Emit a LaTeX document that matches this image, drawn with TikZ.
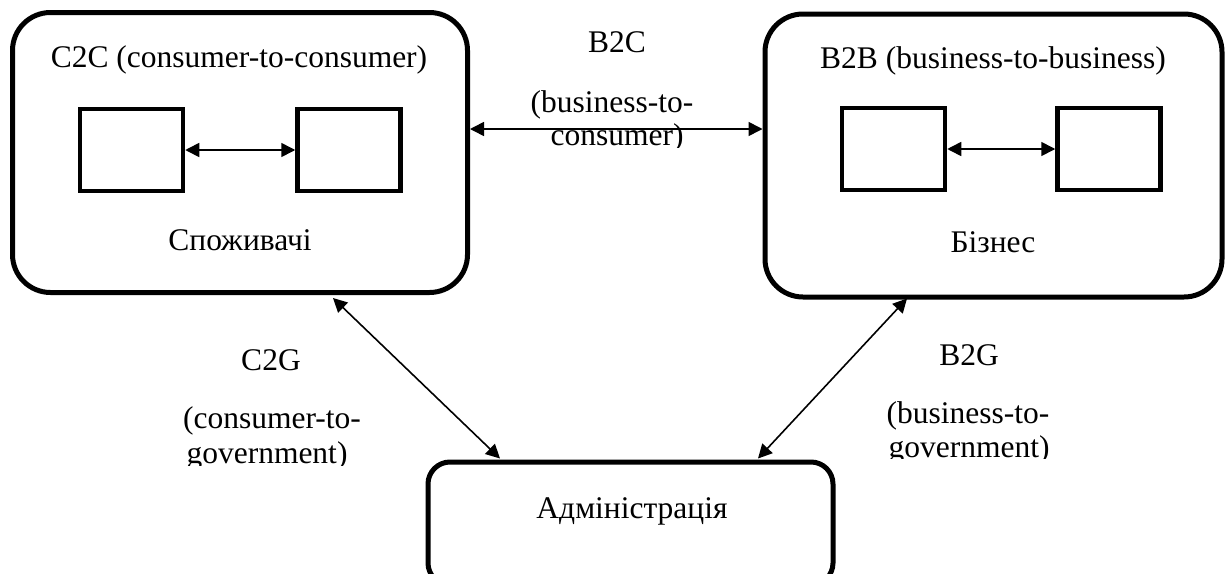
\documentclass[tikz,border=0pt]{standalone}
\usepackage{fontspec}
\setmainfont{Liberation Serif}
\usetikzlibrary{arrows.meta,calc}
\begin{document}
\begin{tikzpicture}[x=1pt,y=-1pt,
  bigbox/.style={draw,line width=5pt,rounded corners=38pt,inner sep=0pt},
  smallbox/.style={draw,line width=4.5pt,inner sep=0pt,minimum width=103pt,minimum height=82pt},
  adminbox/.style={draw,line width=5pt,rounded corners=22pt,inner sep=0pt},
  link/.style={line width=1.6pt,{Triangle[length=14pt,width=14pt]}-{Triangle[length=14pt,width=14pt]}},
  lbl/.style={anchor=base,inner sep=0pt,font=\fontsize{31.5}{36}\selectfont}]
\useasboundingbox (0,0) rectangle (1225,573);
% big boxes
\node[bigbox,minimum width=455pt,minimum height=280pt] (c2c) at (240,152.5) {};
\node[bigbox,minimum width=457pt,minimum height=283pt] (b2b) at (993.5,155.5) {};
\node[adminbox,minimum width=405pt,minimum height=123pt] (admin) at (630.5,523.5) {};
% small boxes
\node[smallbox] (c1) at (131.5,150) {};
\node[smallbox] (c2) at (349,150) {};
\node[smallbox] (b1) at (893.5,149) {};
\node[smallbox] (b2) at (1109,149) {};
% connectors
\draw[link] (c1.east) -- (c2.west);
\draw[link] (b1.east) -- (b2.west);
\draw[link] ($(c2c.east)+(0,-23.5)$) -- ($(b2b.west)+(0,-26.5)$);
\draw[link] ($(c2c.south)+(93,3)$) -- ($(admin.north)+(-130.5,-1)$);
\draw[link] ($(b2b.south)+(-86.5,-1)$) -- ($(admin.north)+(127.5,-1)$);
% labels
\node[lbl] (tc2c) at (239,67) {C2C (consumer-to-consumer)};
\node[lbl] (tcons) at (240,250) {Споживачі};
\node[lbl] (tb2b) at (993,68) {B2B (business-to-business)};
\node[lbl] (tbiz) at (993,252) {Бізнес};
\node[lbl] (tadm) at (632,518) {Адміністрація};
\node[lbl] (tb2c) at (617,52) {B2C};
\node[lbl] (tb2c1) at (612,112) {(business-to-};
\begin{scope}
  \clip (500,115) rectangle (740,147);
  \node[lbl] (tb2c2) at (617,145) {consumer)};
\end{scope}
\node[lbl] (tc2g) at (271,370) {C2G};
\node[lbl] (tc2g1) at (272,428) {(consumer-to-};
\begin{scope}
  \clip (150,432) rectangle (400,465);
  \node[lbl] (tc2g2) at (267,463) {government)};
\end{scope}
\node[lbl] (tb2g) at (969,365) {B2G};
\node[lbl] (tb2g1) at (968,423) {(business-to-};
\begin{scope}
  \clip (850,427) rectangle (1100,458.5);
  \node[lbl] (tb2g2) at (969,457) {government)};
\end{scope}
\end{tikzpicture}
\end{document}
